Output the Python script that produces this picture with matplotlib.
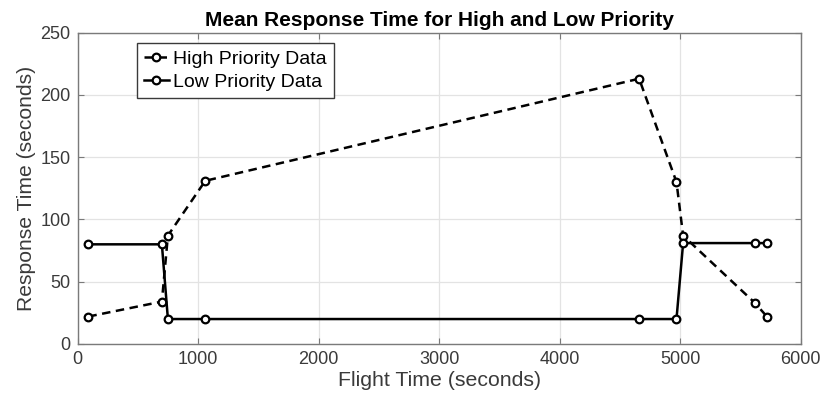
import matplotlib
matplotlib.use("Agg")
import matplotlib.pyplot as plt

plt.rcParams['font.family'] = ['Liberation Sans', 'DejaVu Sans']

# flight time (s) for each sample
flight_time = [90, 700, 750, 1060, 4660, 4970, 5025, 5620, 5720]
high_priority = [22, 34, 87, 131, 213, 130, 87, 33, 22]
low_priority = [80, 80, 20, 20, 20, 20, 81, 81, 81]

fig = plt.figure(figsize=(8.22, 4.08), dpi=100)
ax = fig.add_axes([0.0943, 0.157, 0.8797, 0.763])

ax.plot(flight_time, high_priority, '--o', color='black', lw=1.8, dashes=(3.4, 2.2),
        markersize=5.5, markerfacecolor='white', markeredgewidth=1.6,
        label='High Priority Data')
ax.plot(flight_time, low_priority, '-o', color='black', lw=1.8,
        markersize=5.5, markerfacecolor='white', markeredgewidth=1.6,
        label='Low Priority Data')

ax.set_xlim(0, 6000)
ax.set_ylim(0, 250)
ax.set_xticks(range(0, 6001, 1000))
ax.set_yticks(range(0, 251, 50))
ax.grid(True, color='#e3e3e3', lw=0.9)
ax.set_axisbelow(True)
for s in ax.spines.values():
    s.set_color('#7a7a7a')
    s.set_linewidth(1.0)
ax.tick_params(direction='in', length=4, color='#7a7a7a', labelsize=13,
               labelcolor='#3a3a3a', top=True, right=True, pad=5)

ax.set_xlabel('Flight Time (seconds)', fontsize=15.3, color='#3a3a3a', labelpad=2)
ax.set_ylabel('Response Time (seconds)', fontsize=15.2, color='#3a3a3a', labelpad=3)
ax.set_title('Mean Response Time for High and Low Priority', fontsize=15,
             fontweight='bold', pad=5)

leg = ax.legend(loc='upper left', bbox_to_anchor=(0.082, 0.968), fontsize=14,
                handlelength=1.25, handletextpad=0.25, borderpad=0.38,
                labelspacing=0.3, fancybox=False, framealpha=1,
                edgecolor='#3a3a3a', borderaxespad=0)
leg.get_frame().set_linewidth(1.0)

fig.savefig('out.png', dpi=100)
